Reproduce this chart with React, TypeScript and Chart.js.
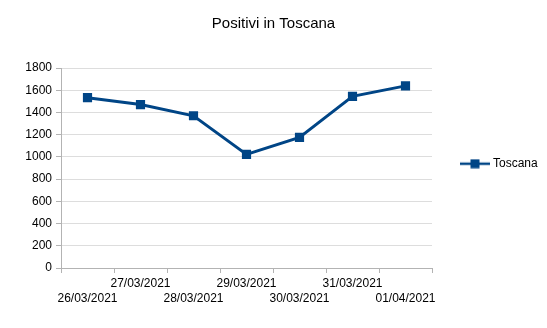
import React, { useEffect, useRef } from "react";
import { Chart, registerables } from "chart.js";

Chart.register(...registerables);

const categories = [
  "26/03/2021",
  "27/03/2021",
  "28/03/2021",
  "29/03/2021",
  "30/03/2021",
  "31/03/2021",
  "01/04/2021",
];
const toscana = [1533, 1471, 1370, 1022, 1175, 1545, 1639];
const seriesName = "Toscana";
const chartTitle = "Positivi in Toscana";

const SERIES_COLOR = "#004586";
const FONT = "'Liberation Sans', Arial, sans-serif";

function makeLegendMarker(): HTMLCanvasElement {
  const c = document.createElement("canvas");
  c.width = 30;
  c.height = 10;
  const ctx = c.getContext("2d")!;
  ctx.strokeStyle = SERIES_COLOR;
  ctx.lineWidth = 2.5;
  ctx.beginPath();
  ctx.moveTo(0, 5);
  ctx.lineTo(30, 5);
  ctx.stroke();
  ctx.fillStyle = SERIES_COLOR;
  ctx.fillRect(10.5, 0.5, 9, 9);
  return c;
}

export default function App() {
  const ref = useRef<HTMLCanvasElement | null>(null);

  useEffect(() => {
    document.body.style.margin = "0";
    const canvas = ref.current;
    if (!canvas) return;
    const marker = makeLegendMarker();
    const chart = new Chart(canvas, {
      type: "line",
      data: {
        labels: categories,
        datasets: [
          {
            label: seriesName,
            data: toscana,
            borderColor: SERIES_COLOR,
            backgroundColor: SERIES_COLOR,
            borderWidth: 3,
            pointStyle: "rect",
            pointRadius: 6.5,
            pointHoverRadius: 6.5,
            pointBorderWidth: 0,
            tension: 0,
          },
        ],
      },
      options: {
        responsive: false,
        animation: false,
        layout: { padding: { left: 0, right: 0, top: 0, bottom: 19 } },
        plugins: {
          title: {
            display: true,
            text: chartTitle,
            color: "#000",
            font: { family: FONT, size: 15, weight: "normal" },
            padding: { top: 15, bottom: 35 },
          },
          legend: {
            position: "right",
            maxWidth: 115,
            title: {
              display: true,
              text: " ",
              padding: 2,
              font: { family: FONT, size: 12 },
            },
            labels: {
              usePointStyle: true,
              pointStyleWidth: 24,
              padding: 31,
              color: "#000",
              font: { family: FONT, size: 12 },
              generateLabels: (ch: any) => {
                const items = Chart.defaults.plugins.legend.labels.generateLabels(ch);
                return items.map((it: any) => ({ ...it, pointStyle: marker }));
              },
            },
          },
          tooltip: { enabled: false },
        },
        scales: {
          x: {
            type: "category",
            offset: true,
            border: { display: true, color: "#b3b3b3", width: 1 },
            grid: {
              offset: true,
              drawOnChartArea: false,
              drawTicks: true,
              tickLength: 5,
              tickColor: "#b3b3b3",
            },
            ticks: {
              autoSkip: false,
              maxRotation: 0,
              minRotation: 0,
              padding: 3,
              color: "#000",
              font: { family: FONT, size: 12, lineHeight: 1.25 },
              callback: function (this: any, value: any, index: number) {
                const lab = this.getLabelForValue(value);
                return index % 2 === 0 ? ["", lab] : [lab, ""];
              },
            },
          },
          y: {
            min: 0,
            max: 1800,
            border: { display: true, color: "#b3b3b3", width: 1 },
            grid: {
              color: "#dddddd",
              tickLength: 5,
              tickColor: "#b3b3b3",
            },
            ticks: {
              stepSize: 200,
              padding: 4,
              color: "#000",
              font: { family: FONT, size: 12 },
              callback: (v: any) => String(v),
            },
            afterFit: (scale: any) => {
              scale.width = 61;
            },
          },
        },
      },
    });
    return () => chart.destroy();
  }, []);

  return (
    <div style={{ width: 547, height: 328 }}>
      <canvas ref={ref} width={547} height={328} style={{ display: "block" }} />
    </div>
  );
}
